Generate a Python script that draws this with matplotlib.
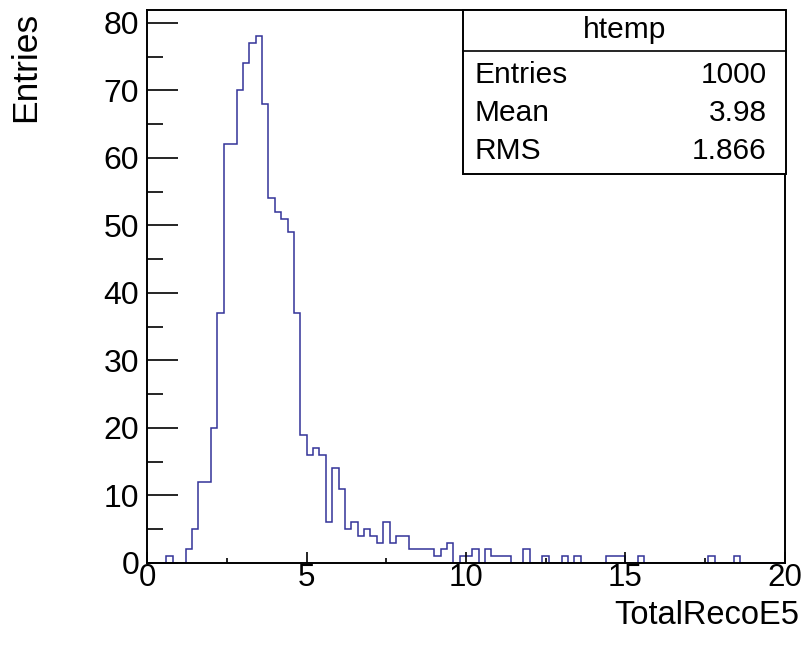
import numpy as np
import matplotlib
matplotlib.use("Agg")
import matplotlib.pyplot as plt
from matplotlib.ticker import MultipleLocator
from matplotlib.patches import Rectangle
from matplotlib.lines import Line2D

plt.rcParams['font.family'] = ['Liberation Sans', 'DejaVu Sans']

# ---- data ----
x_min, x_max, n_bins = 0.0, 20.0, 100
counts = [0, 0, 0, 1, 0, 0, 2, 5, 12, 12,
          20, 37, 62, 62, 70, 74, 77, 78, 68, 54,
          52, 51, 49, 37, 19, 16, 17, 16, 6, 14,
          11, 5, 6, 4, 5, 4, 3, 6, 3, 4,
          4, 2, 2, 2, 2, 1, 2, 3, 0, 1,
          1, 2, 0, 2, 1, 1, 1, 0, 0, 2,
          0, 0, 1, 0, 0, 1, 0, 1, 0, 0,
          0, 0, 1, 1, 1, 0, 0, 1, 0, 0,
          0, 0, 0, 0, 0, 0, 0, 0, 1, 0,
          0, 0, 1, 0, 0, 0, 0, 0, 0, 0]
hist_name = "htemp"
stats_labels = ["Entries", "Mean", "RMS"]
stats_values = ["1000", "3.98", "1.866"]
x_title = "TotalRecoE5"
y_title = "Entries"

edges = np.linspace(x_min, x_max, n_bins + 1)

W, H = 806, 651
fig = plt.figure(figsize=(W / 100, H / 100), dpi=100)
fig.patch.set_facecolor('white')

def fx(px):
    return px / W

def fy(py):
    return 1 - py / H

ax_l, ax_r, ax_t, ax_b = 147.3, 784.7, 10.0, 562.8
ax = fig.add_axes([fx(ax_l), fy(ax_b), fx(ax_r) - fx(ax_l), fy(ax_t) - fy(ax_b)])

ax.stairs(counts, edges, color='#333399', linewidth=1.1, baseline=0)
ax.set_xlim(x_min, x_max)
ax.set_ylim(0, max(counts) * 1.05)

for s in ax.spines.values():
    s.set_linewidth(1.4)
    s.set_color('black')

ax.xaxis.set_major_locator(MultipleLocator(5))
ax.xaxis.set_minor_locator(MultipleLocator(2.5))
ax.yaxis.set_major_locator(MultipleLocator(10))
ax.yaxis.set_minor_locator(MultipleLocator(5))

ax.tick_params(axis='x', which='major', direction='in', length=8, width=1.2, pad=0.5, labelsize=22.5)
ax.tick_params(axis='x', which='minor', direction='in', length=3.5, width=1.2)
ax.tick_params(axis='y', which='major', direction='in', length=22, width=1.2, pad=5.8, labelsize=23)
ax.tick_params(axis='y', which='minor', direction='in', length=11.5, width=1.2)
ax.tick_params(top=False, right=False)

ax.set_xlabel(x_title, fontsize=23.5, loc='right')
ax.xaxis.set_label_coords(1.0224, -0.068)
ax.set_ylabel(y_title, fontsize=25.5, loc='top')
ax.yaxis.set_label_coords(-0.1655, 0.997)

# ---- stats box ----
bl, br, bt, bb, bsep = 463.3, 785.5, 10.0, 174.0, 50.7
fig.add_artist(Rectangle((fx(bl), fy(bb)), fx(br) - fx(bl), fy(bt) - fy(bb),
                         transform=fig.transFigure, facecolor='white',
                         edgecolor='black', linewidth=1.4, zorder=5))
fig.add_artist(Line2D([fx(bl), fx(br)], [fy(bsep), fy(bsep)], transform=fig.transFigure,
                      color='black', linewidth=1.2, zorder=6))
fig.text(fx((bl + br) / 2), fy(30), hist_name, ha='center', va='center', fontsize=21.5, zorder=7)
rows_y = [75, 113, 151]
for lab, val, yy in zip(stats_labels, stats_values, rows_y):
    fig.text(fx(475), fy(yy), lab, ha='left', va='center', fontsize=21.5, zorder=7)
    fig.text(fx(767), fy(yy), val, ha='right', va='center', fontsize=21.5, zorder=7)

fig.savefig("out.png", dpi=100, facecolor='white')
